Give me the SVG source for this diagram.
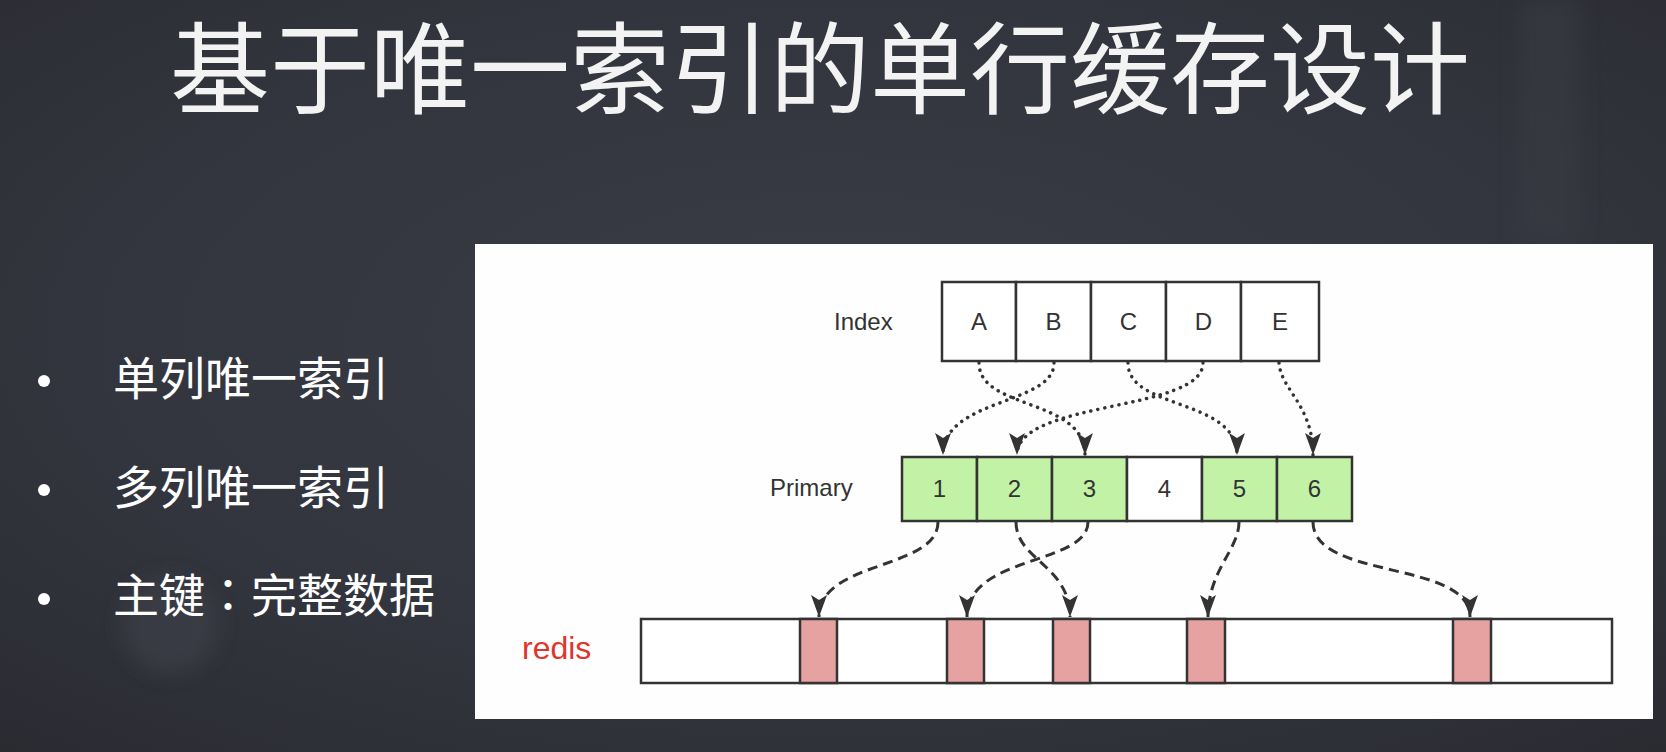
<svg xmlns="http://www.w3.org/2000/svg" width="1666" height="752" viewBox="0 0 1666 752">
  <defs>
    <radialGradient id="bg-glow" cx="0.5" cy="0.45" r="0.75">
      <stop offset="0" stop-color="#3a3c46"/>
      <stop offset="0.6" stop-color="#33353e"/>
      <stop offset="1" stop-color="#2a2b31"/>
    </radialGradient>
    <filter id="soft" x="-50%" y="-50%" width="200%" height="200%">
      <feGaussianBlur stdDeviation="10"/>
    </filter>
    <marker id="arrow" viewBox="0 0 22 16" refX="22" refY="8" markerWidth="22" markerHeight="16" markerUnits="userSpaceOnUse" orient="auto">
      <path d="M0,0 L22,8 L0,16 L5,8 z" fill="#333333"/>
    </marker>
    <style>
      .title { font-family: "Noto Sans CJK SC", "Noto Sans", sans-serif; font-size: 100px; fill: #f3f3f3; }
      .bullet-text { font-family: "Noto Sans CJK SC", "Noto Sans", sans-serif; font-size: 46px; fill: #ffffff; }
      .centered-punct { font-family: "Noto Sans CJK TC", "Noto Sans CJK SC", sans-serif; }
      .bullet { fill: #ffffff; }
      .cell { stroke: #333333; stroke-width: 2.5; }
      .plain { fill: #ffffff; }
      .hit { fill: #c2f2a6; }
      .slot { fill: #e6a1a1; }
      .label { font-family: "Liberation Sans", Arial, sans-serif; font-size: 24px; fill: #333333; }
      .cell-text { font-family: "Liberation Sans", Arial, sans-serif; font-size: 24px; fill: #333333; text-anchor: middle; }
      .redis { font-family: "Liberation Sans", Arial, sans-serif; font-size: 32px; fill: #e0352b; }
      .dotted { fill: none; stroke: #333333; stroke-width: 3.5; stroke-linecap: round; stroke-dasharray: 0.1 7; marker-end: url(#arrow); }
      .dashed { fill: none; stroke: #333333; stroke-width: 3; stroke-dasharray: 10 6; marker-end: url(#arrow); }
    </style>
  </defs>

  <!-- slide background -->
  <rect x="0" y="0" width="1666" height="752" fill="url(#bg-glow)"/>
  <circle cx="170" cy="625" r="48" fill="#3d3f49" filter="url(#soft)" opacity="0.7"/>
  <rect x="1520" y="0" width="60" height="240" fill="#3a3c45" filter="url(#soft)" opacity="0.5"/>

  <!-- title -->
  <text class="title" x="820" y="106" text-anchor="middle">基于唯一索引的单行缓存设计</text>

  <!-- bullet list -->
  <g id="bullets">
    <circle class="bullet" cx="44" cy="381" r="6"/>
    <text class="bullet-text" x="113" y="395">单列唯一索引</text>
    <circle class="bullet" cx="44" cy="490" r="6"/>
    <text class="bullet-text" x="113" y="504">多列唯一索引</text>
    <circle class="bullet" cx="44" cy="599" r="6"/>
    <text class="bullet-text" x="113" y="612">主键<tspan class="centered-punct">：</tspan>完整数据</text>
  </g>

  <!-- diagram panel -->
  <rect x="475" y="244" width="1178" height="475" fill="#fefefe"/>

  <!-- index row -->
  <g id="index">
    <text class="label" x="834" y="330">Index</text>
    <rect class="cell plain" x="942" y="282" width="74" height="79"/>
    <rect class="cell plain" x="1016" y="282" width="75" height="79"/>
    <rect class="cell plain" x="1091" y="282" width="75" height="79"/>
    <rect class="cell plain" x="1166" y="282" width="75" height="79"/>
    <rect class="cell plain" x="1241" y="282" width="78" height="79"/>
    <text class="cell-text" x="979" y="330">A</text>
    <text class="cell-text" x="1053.5" y="330">B</text>
    <text class="cell-text" x="1128.5" y="330">C</text>
    <text class="cell-text" x="1203.5" y="330">D</text>
    <text class="cell-text" x="1280" y="330">E</text>
  </g>

  <!-- primary row -->
  <g id="primary">
    <text class="label" x="770" y="496">Primary</text>
    <rect class="cell hit" x="902" y="457" width="75" height="64"/>
    <rect class="cell hit" x="977" y="457" width="75" height="64"/>
    <rect class="cell hit" x="1052" y="457" width="75" height="64"/>
    <rect class="cell plain" x="1127" y="457" width="75" height="64"/>
    <rect class="cell hit" x="1202" y="457" width="75" height="64"/>
    <rect class="cell hit" x="1277" y="457" width="75" height="64"/>
    <text class="cell-text" x="939.5" y="497">1</text>
    <text class="cell-text" x="1014.5" y="497">2</text>
    <text class="cell-text" x="1089.5" y="497">3</text>
    <text class="cell-text" x="1164.5" y="497">4</text>
    <text class="cell-text" x="1239.5" y="497">5</text>
    <text class="cell-text" x="1314.5" y="497">6</text>
  </g>

  <!-- redis row -->
  <g id="redis">
    <text class="redis" x="522" y="659">redis</text>
    <rect class="cell plain" x="641" y="619" width="971" height="64"/>
    <rect class="cell slot" x="800" y="619" width="37" height="64"/>
    <rect class="cell slot" x="947" y="619" width="37" height="64"/>
    <rect class="cell slot" x="1053" y="619" width="37" height="64"/>
    <rect class="cell slot" x="1187" y="619" width="38" height="64"/>
    <rect class="cell slot" x="1453" y="619" width="38" height="64"/>
  </g>

  <!-- connectors -->
  <g id="connectors">
    <!-- index -> primary -->
    <path class="dotted" d="M979,363 C979,410 1085,398 1085,455"/>
    <path class="dotted" d="M1054,363 C1054,405 943,398 943,455"/>
    <path class="dotted" d="M1128,363 C1128,410 1237,398 1237,455"/>
    <path class="dotted" d="M1203,363 C1203,412 1017,400 1017,455"/>
    <path class="dotted" d="M1279,363 C1281,390 1313,405 1313,455"/>
    <!-- primary -> redis -->
    <path class="dashed" d="M938,522 C938,570 819,560 819,617"/>
    <path class="dashed" d="M1016,522 C1016,560 1070,565 1070,617"/>
    <path class="dashed" d="M1088,522 C1088,565 967,555 967,617"/>
    <path class="dashed" d="M1239,522 C1239,550 1208,570 1208,617"/>
    <path class="dashed" d="M1313,522 C1313,580 1470,560 1470,617"/>
  </g>
</svg>
